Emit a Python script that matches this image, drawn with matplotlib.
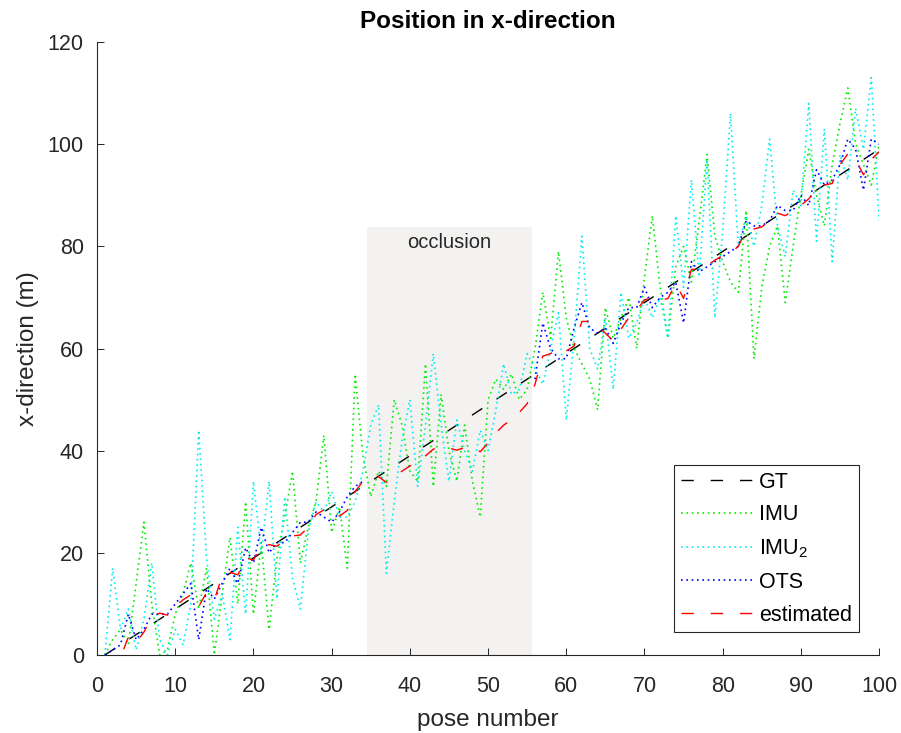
import numpy as np
import matplotlib
matplotlib.use("Agg")
import matplotlib.pyplot as plt

plt.rcParams['font.family'] = ['Liberation Sans', 'DejaVu Sans']
plt.rcParams['mathtext.fontset'] = 'custom'
plt.rcParams['mathtext.rm'] = 'Liberation Sans'

# pose numbers 1..100
pose = np.arange(1, 101)

gt = [0, 1, 2, 3, 4, 5, 6, 7, 8, 9,
      10, 11, 12, 13, 14, 15, 16, 17, 18, 19,
      20, 21, 22, 23, 24, 25, 26, 27, 28, 29,
      30, 31, 32, 33, 34, 35, 36, 37, 38, 39,
      40, 41, 42, 43, 44, 45, 46, 47, 48, 49,
      50, 51, 52, 53, 54, 55, 56, 57, 58, 59,
      60, 61, 62, 63, 64, 65, 66, 67, 68, 69,
      70, 71, 72, 73, 74, 75, 76, 77, 78, 79,
      80, 81, 82, 83, 84, 85, 86, 87, 88, 89,
      90, 91, 92, 93, 94, 95, 96, 97, 98, 99]

imu = [0, 3, 5, 2, 14, 26, 10, 0, 1, 8,
       12, 18, 9, 17, 0, 12, 23, 10, 30, 8,
       22, 5, 19, 27, 36, 18, 25, 30, 43, 24,
       29, 17, 55, 39, 31, 36, 33, 50, 45, 36,
       34, 57, 33, 51, 40, 34, 45, 34, 27, 50,
       54, 52, 55, 50, 52, 60, 71, 62, 79, 66,
       60, 57, 54, 48, 68, 62, 66, 70, 60, 74,
       86, 72, 62, 76, 80, 73, 85, 98, 82, 77,
       73, 71, 87, 58, 72, 80, 84, 69, 80, 90,
       99, 90, 84, 96, 104, 111, 100, 96, 92, 100]

imu2 = [0, 17, 5, 9, 1, 7, 18, 3, 0, 5,
        2, 10, 44, 19, 7, 12, 3, 25, 8, 34,
        20, 34, 11, 31, 15, 9, 24, 30, 28, 32,
        27, 27, 30, 36, 45, 49, 16, 30, 42, 50,
        33, 45, 59, 45, 34, 46, 40, 36, 44, 40,
        48, 57, 51, 52, 59, 56, 53, 60, 67, 46,
        62, 82, 60, 56, 66, 52, 71, 62, 65, 70,
        66, 70, 62, 86, 72, 93, 74, 97, 66, 83,
        106, 80, 86, 80, 88, 101, 84, 78, 91, 88,
        108, 81, 103, 77, 98, 93, 107, 99, 113, 85]

nan = np.nan
ots = [0, 1, 2, 8, 3, 5, 8, 8, 8, 10,
       12, 14, 3, 13, 11, 14, 17, 14, 21, 18,
       25, 20, 22, 22, 24, 26, 26, 28, 27, 26,
       28, 31, 33, 34, nan, nan, nan, nan, nan, nan,
       nan, nan, nan, nan, nan, nan, nan, nan, nan, nan,
       nan, nan, nan, nan, nan, 54, 65, 60, 58, 58,
       64, 69, 64, 63, 64, 61, 65, 68, 68, 72,
       68, 70, 71, 73, 65, 77, 75, 76, 77, 78,
       79, 80, 85, 84, 84, 85, 88, 87, 87, 90,
       88, 95, 92, 93, 96, 101, 99, 91, 101, 100]

estimated = [0, -1.5, -0.5, 3.5, 2.4, 4.5, 7.5, 8.2, 7.8, 9.4,
             10.8, 11.8, 9.5, 12.2, 10.8, 15.5, 16.2, 15.7, 19, 18.6,
             21.5, 21.6, 21.3, 22.5, 23.3, 23.5, 25, 27.5, 28.4, 27.1,
             27.2, 28.3, 32, 34, 34.4, 34.9, 33.8, 35, 36, 37,
             37.6, 39, 40.3, 40.8, 40.5, 40.1, 40.6, 40.7, 39.8, 41.5,
             43.5, 45, 46.1, 47.5, 49.2, 53, 58.5, 59, 60.2, 59.5,
             60.5, 65.3, 65.3, 64.3, 63, 61.5, 63.8, 66, 67.5, 69.5,
             70, 69.4, 69.8, 72.7, 69.8, 75.5, 75.5, 76.2, 77.3, 78.2,
             78.7, 80, 83.2, 83.4, 83.8, 85, 86.5, 86, 87, 88,
             89.3, 91, 92, 92.3, 96, 98.1, 97, 94, 97, 98.5]

# occluded pose range and label
occl_start, occl_end, occl_top = 34.5, 55.6, 83.7

fig = plt.figure(figsize=(9.01, 7.33), dpi=100)
ax = fig.add_axes([0.1077, 0.1064, 0.868, 0.8363])

ax.fill_between([occl_start, occl_end], 0, occl_top, color='#f3f2f0', lw=0, zorder=0)
ax.text((occl_start + occl_end) / 2, occl_top - 2.9, 'occlusion', ha='center', va='center',
        fontsize=14.5, color='#262626')

dash = (0, (8.85, 12.2))
dot = (0, (1, 2.2))
ax.plot(pose, gt, color='black', lw=1.0, linestyle=dash, label='GT')
ax.plot(pose, imu, color='#00ee00', lw=1.2, linestyle=dot, label='IMU')
ax.plot(pose, imu2, color='#00eeee', lw=1.2, linestyle=dot, label='IMU$_2$')
ax.plot(pose, ots, color='#0000ff', lw=1.2, linestyle=dot, label='OTS')
ax.plot(pose, estimated, color='#ff0000', lw=1.0, linestyle=dash, label='estimated')

ax.set_xlim(0, 100)
ax.set_ylim(0, 120)
ax.set_xticks(np.arange(0, 101, 10))
ax.set_yticks(np.arange(0, 121, 20))

for s in ['top', 'right']:
    ax.spines[s].set_visible(False)
for s in ['left', 'bottom']:
    ax.spines[s].set_color('#262626')
    ax.spines[s].set_linewidth(0.8)
ax.tick_params(direction='in', length=5, width=0.7, colors='#262626', labelsize=15.5,
               labelcolor='#262626')
ax.tick_params(axis='x', pad=15)
ax.tick_params(axis='y', pad=9.5)

ax.set_xlabel('pose number', fontsize=17.5, color='#262626', labelpad=9)
ax.set_ylabel('x-direction (m)', fontsize=17.5, color='#262626', labelpad=6)
ax.set_title('Position in x-direction', fontsize=17.5, fontweight='bold', pad=10)

leg = ax.legend(loc='lower right', bbox_to_anchor=(0.974, 0.0375), borderaxespad=0,
                fontsize=15.5, handlelength=3.33, handletextpad=0.32, labelspacing=0.55,
                borderpad=0.3, fancybox=False, framealpha=1)
leg.get_frame().set_edgecolor('#262626')
leg.get_frame().set_linewidth(0.8)

fig.savefig('out.png', dpi=100)
